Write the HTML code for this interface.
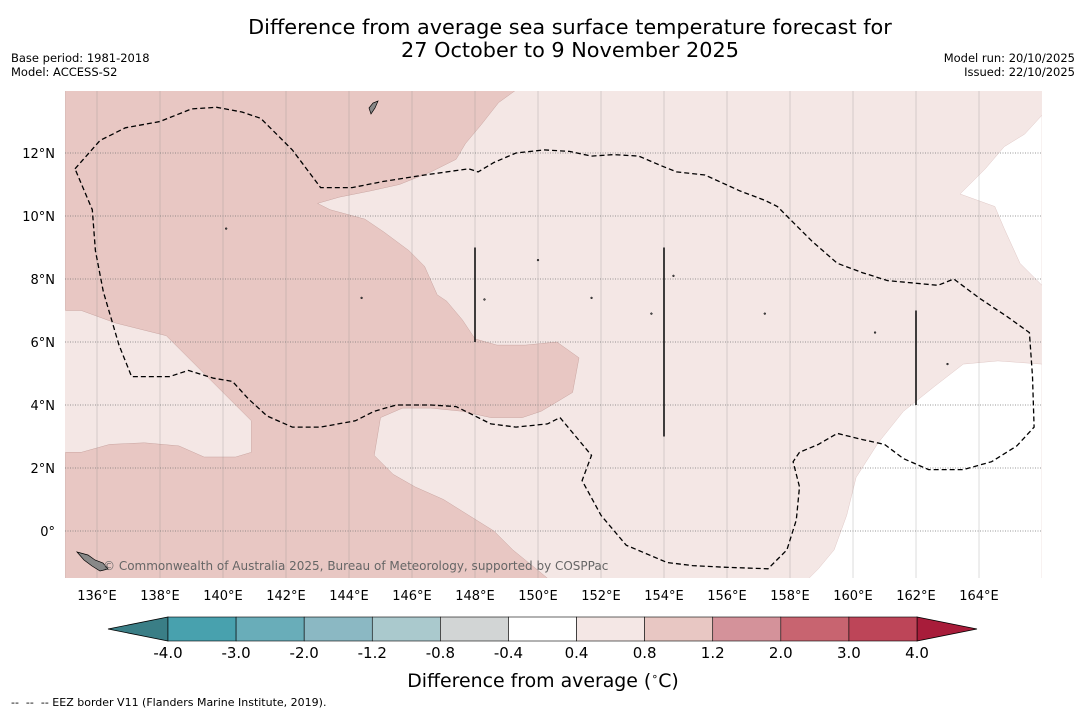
<!DOCTYPE html>
<html><head><meta charset="utf-8">
<style>
body{margin:0;background:#fff;font-family:"Liberation Sans","DejaVu Sans",sans-serif;}
#wrap{position:relative;width:1085px;height:713px;overflow:hidden;background:#fff;}
svg text{font-family:"DejaVu Sans","Liberation Sans",sans-serif;}
</style></head><body>
<div id="wrap">
<svg id="svg" width="1085" height="713" xmlns="http://www.w3.org/2000/svg">
<text x="570" y="34" font-size="20.8" text-anchor="middle">Difference from average sea surface temperature forecast for</text>
<text x="570" y="57" font-size="20.8" text-anchor="middle">27 October to 9 November 2025</text>
<text x="11" y="62" font-size="11.5">Base period: 1981-2018</text>
<text x="11" y="76" font-size="11.5">Model: ACCESS-S2</text>
<text x="1075" y="62" font-size="11.5" text-anchor="end">Model run: 20/10/2025</text>
<text x="1075" y="76" font-size="11.5" text-anchor="end">Issued: 22/10/2025</text>
<g id="map"></g>
<g id="cbar"></g>
<text x="543" y="687" font-size="18.9" text-anchor="middle">Difference from average (<tspan font-size="11" dy="-7">∘</tspan><tspan dy="7">C)</tspan></text>
<text x="11" y="706" font-size="11">-- &#160;-- &#160;-- EEZ border V11 (Flanders Marine Institute, 2019).</text>
</svg>
</div>
<script>
const xTicks=[136,138,140,142,144,146,148,150,152,154,156,158,160,162,164];
const yTicks=[0,2,4,6,8,10,12];
const cbLevels=["-4.0","-3.0","-2.0","-1.2","-0.8","-0.4","0.4","0.8","1.2","2.0","3.0","4.0"];
const cbColors=["#48a1ae","#69adb9","#8bb8c3","#aac9cd","#d2d5d5","#ffffff","#f4e7e5","#e8c7c3","#d4929a","#c86470","#bd4558"];
const darkRegion=[[135,14],[149.3,14],[148.75,13.6],[148.2,12.9],[147.7,12.3],[147.4,11.8],[146.6,11.4],[145.6,11.0],[144.7,10.8],[143.7,10.6],[143.0,10.4],[143.4,10.2],[144.5,9.9],[145.1,9.5],[145.9,8.9],[146.4,8.4],[146.8,7.5],[147.1,7.3],[147.6,6.7],[148.0,6.1],[148.7,5.9],[149.6,5.9],[150.6,6.0],[151.3,5.5],[151.1,4.4],[150.6,4.1],[150.1,3.8],[149.5,3.6],[148.5,3.6],[147.6,3.8],[146.6,3.9],[145.7,3.9],[145.0,3.6],[144.8,2.4],[145.4,1.8],[146.1,1.4],[147.0,1.0],[147.8,0.5],[148.6,0.0],[149.2,-0.6],[150.0,-1.25],[150.3,-1.5],[135,-1.5],[135,2.5],[135.5,2.5],[136.4,2.75],[137.5,2.8],[138.6,2.7],[139.4,2.35],[140.4,2.35],[140.9,2.5],[140.9,3.5],[140.4,4.0],[139.8,4.6],[139.0,5.4],[138.2,6.2],[136.6,6.6],[135.5,7.0],[135,7.0]];
const whiteNE=[[166,13.2],[165.45,12.6],[164.8,12.2],[164.2,11.5],[163.4,10.7],[164.5,10.3],[164.8,9.6],[165.3,8.5],[166,7.8]];
const whiteSE=[[166,5.3],[164.6,5.4],[163.5,5.3],[162.6,4.6],[161.6,3.8],[160.8,2.8],[160.1,1.7],[159.8,0.5],[159.4,-0.6],[158.9,-1.2],[158.6,-1.5],[166,-1.5]];
const eezBorder=[[135.3,11.5],[136.1,12.4],[136.9,12.8],[138,13.0],[139,13.4],[139.8,13.45],[140.6,13.3],[141.2,13.1],[142.2,12.1],[143.1,10.9],[144.1,10.9],[145.1,11.1],[146.4,11.3],[147.8,11.5],[148.1,11.4],[148.6,11.7],[149.3,12.0],[150.2,12.1],[151,12.05],[151.7,11.9],[152.4,11.95],[153.2,11.9],[153.9,11.6],[154.4,11.4],[155.3,11.3],[156.4,10.8],[157.2,10.5],[157.6,10.3],[158.1,9.8],[158.7,9.2],[159.5,8.5],[160.3,8.2],[161.1,7.95],[162.7,7.8],[163.2,8.0],[164,7.4],[164.9,6.8],[165.6,6.3],[165.7,4.9],[165.75,3.3],[165.2,2.7],[164.4,2.2],[163.5,1.95],[162.4,1.95],[161.6,2.3],[161.0,2.75],[160.3,2.9],[159.5,3.1],[158.9,2.75],[158.3,2.5],[158.1,2.2],[158.3,1.4],[158.2,0.35],[157.9,-0.6],[157.3,-1.2],[155.9,-1.15],[154.9,-1.1],[154.1,-1.0],[152.8,-0.45],[152.0,0.5],[151.4,1.6],[151.7,2.4],[151.2,3.0],[150.7,3.6],[150.3,3.4],[149.3,3.3],[148.5,3.4],[147.9,3.7],[147.4,3.95],[146.6,4.0],[145.5,4.0],[144.8,3.8],[144.2,3.5],[143.1,3.3],[142.2,3.3],[141.4,3.65],[140.8,4.2],[140.3,4.75],[139.7,4.85],[138.9,5.1],[138.3,4.9],[137.1,4.9],[136.7,5.9],[136.2,7.6],[135.95,8.9],[135.85,10.2],[135.3,11.5]];
const vertLines=[[148,9,6],[154,9,3],[162,7,4]];
const islands=[[140.1,9.6],[144.4,7.4],[148.3,7.35],[151.7,7.4],[154.3,8.1],[157.2,6.9],[160.7,6.3],[163,5.3],[150,8.6],[153.6,6.9]];

const NS="http://www.w3.org/2000/svg";
const X0=65,X1=1042,Y0=91,Y1=578;
const xs=lon=>97+(lon-136)*31.5;
const ys=lat=>531-lat*31.5;
function mk(tag,at,parent){const e=document.createElementNS(NS,tag);for(const k in at)e.setAttribute(k,at[k]);parent.appendChild(e);return e;}
const map=document.getElementById('map');
const pts=a=>a.map(p=>xs(p[0]).toFixed(1)+","+ys(p[1]).toFixed(1)).join(" ");
const cp=mk('clipPath',{id:'mc'},map);mk('rect',{x:X0,y:Y0,width:X1-X0,height:Y1-Y0},cp);
const g=mk('g',{'clip-path':'url(#mc)'},map);
let r=mk('rect',{x:X0,y:Y0,width:X1-X0,height:Y1-Y0,fill:'#f4e7e5'},g);


let p=mk('polygon',{points:pts(darkRegion),fill:'#e8c7c3',stroke:'#c9a5a1','stroke-width':0.5},g);


[whiteNE,whiteSE].forEach((w,i)=>{const q=mk('polygon',{points:pts(w),fill:'#ffffff',stroke:'#e0c8c6','stroke-width':0.5},g);

});
xTicks.forEach(lon=>{const x=xs(lon);
const l=mk('line',{x1:x,x2:x,y1:Y0,y2:Y1,stroke:'#888','stroke-width':0.5,'opacity':0.6},g);

});
yTicks.forEach(lat=>{const l=mk('line',{x1:X0,x2:X1,y1:ys(lat),y2:ys(lat),stroke:'#777','stroke-width':0.7,'stroke-dasharray':'1,1.5'},g);

});
let e=mk('polyline',{points:pts(eezBorder),fill:'none',stroke:'#000','stroke-width':1.3,'stroke-dasharray':'5,3'},g);


vertLines.forEach(v=>{const l=mk('line',{x1:xs(v[0]),x2:xs(v[0]),y1:ys(v[1]),y2:ys(v[2]),stroke:'#111','stroke-width':1.6},g);

});
islands.forEach(s=>{const c=mk('circle',{cx:xs(s[0]),cy:ys(s[1]),r:0.9,fill:'#555',stroke:'#000','stroke-width':0.5},g);

});
let isl=mk('polygon',{points:"77,552 88,555 95,560 103,563 108,569 100,571 92,566 84,560",fill:'#888',stroke:'#000','stroke-width':0.7},g);


let isl2=mk('polygon',{points:"369,108 373,103 378,101 375,108 371,114",fill:'#888',stroke:'#000','stroke-width':0.7},g);


let cr=mk('text',{x:103,y:570,'font-size':12,fill:'#666'},g);cr.textContent="© Commonwealth of Australia 2025, Bureau of Meteorology, supported by COSPPac";


xTicks.forEach(lon=>{const t=mk('text',{x:xs(lon),y:600,'font-size':13,'text-anchor':'middle'},map);t.textContent=lon+"°E";

});
yTicks.forEach(lat=>{const t=mk('text',{x:55,y:ys(lat)+5,'font-size':13,'text-anchor':'end'},map);t.textContent=lat===0?"0°":lat+"°N";

});
const cb=document.getElementById('cbar');
const CX0=168,CX1=917,CY=617,CH=24;const cw=(CX1-CX0)/cbColors.length;
let lt=mk('polygon',{points:`108,629 ${CX0},${CY} ${CX0},${CY+CH}`,fill:'#3a7e86',stroke:'#000','stroke-width':0.8},cb);


let rt=mk('polygon',{points:`977,629 ${CX1},${CY} ${CX1},${CY+CH}`,fill:'#a81c3a',stroke:'#000','stroke-width':0.8},cb);


cbColors.forEach((c,i)=>{const b=mk('rect',{x:CX0+i*cw,y:CY,width:cw,height:CH,fill:c,stroke:'#000','stroke-width':0.6},cb);

});
cbLevels.forEach((v,i)=>{const t=mk('text',{x:CX0+i*cw,y:658,'font-size':15,'text-anchor':'middle'},cb);t.textContent=v;

});
</script>
</body></html>
